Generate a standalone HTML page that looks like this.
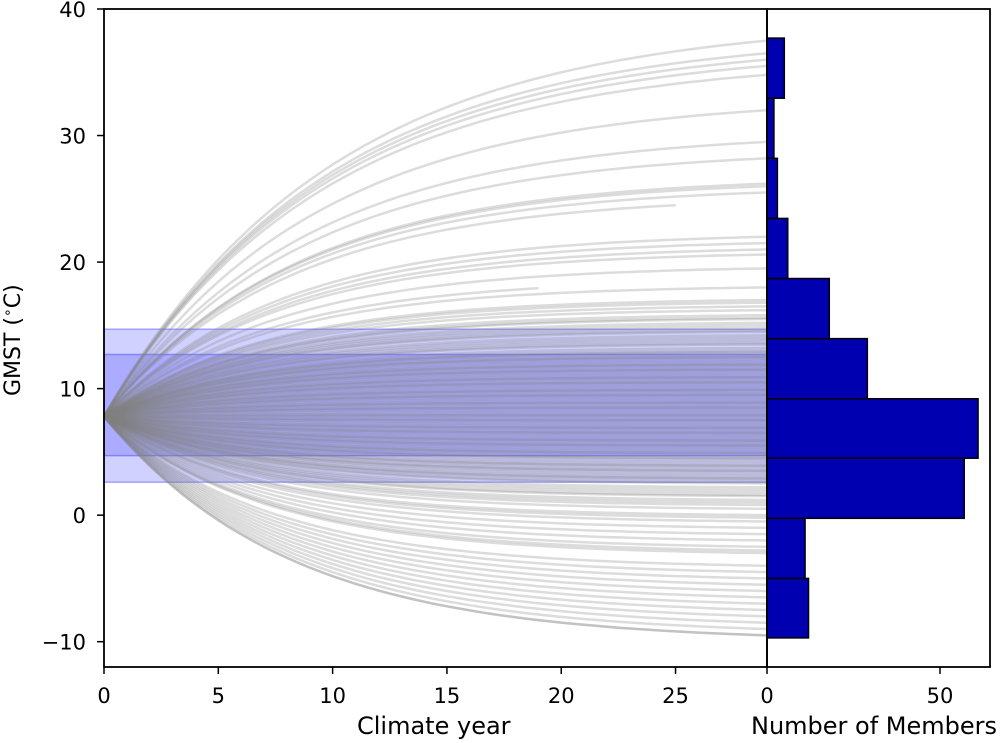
<!DOCTYPE html>
<html><head><meta charset="utf-8"><style>
body{margin:0;background:#fff}
svg{display:block;font-family:"DejaVu Sans","Liberation Sans",sans-serif}
</style></head><body>
<svg id="c" width="1004" height="743"></svg>
<script>
// ---- data ----
const xTicks=[0,5,10,15,20,25];
const yTicks=[-10,0,10,20,30,40];
const histTicks=[0,50];
const startValue=7.8;
const endValues=[37.5,36.5,36,35.5,34.8,32,29.5,28.2,26.2,26,25.5,24.8,22,21.5,21,20.6,19.5,18.5,18,17,16.5,16.2,15.8,15.5,15.2,15,14.8,14.5,14.2,14,13.8,13.5,13.2,13,12.8,12.5,12.2,12,11.8,11.5,11.2,11,10.8,10.5,10.2,10,9.8,9.5,9.2,9,8.8,8.5,8.2,8,7.8,7.5,7.2,7,6.8,6.5,6.2,6,5.8,5.5,5.2,5,4.8,4.5,4.2,4,3.8,3.5,3.2,3,2.8,2.5,2.2,2,1.8,1.5,1.2,1,0.5,0,-0.5,-1,-1.5,-2,-2.5,-3,-4,-4.5,-5,-5.5,-6.5,-7,-7.5,-8,-8.5,-9,-9.5,-9.5,9.6,8.4,7.6,6.6,5.6,4.4,3.4,11.4,12.4,10.6,14.6,13.6,12.6,11.6,10.4,9.4,8.6,7.4,6.4,5.4,4.6,3.6,2.6,1.6,0.8,-0.2,12.9,11.9,10.9,9.9,8.9,7.9,6.9,5.9,4.9,3.9,2.9,16.8,15.6,-2.8,-6];
const endYears=[29,29,29,29,29,29,29,29,29,29,29,25,29,29,29,29,29,19,29];
const histCounts=[12,11,57,61,29,18,6,3,2,5];
const binEdges=[-9.7,-5.0,-0.25,4.5,9.2,13.95,18.7,23.45,28.2,32.95,37.7];
const bandOuter=[2.6,14.7];
const bandInner=[4.7,12.7];
// ---- layout ----
const svg=document.getElementById('c');
const NS='http://www.w3.org/2000/svg';
const L=104,R=767,T=9,B=667,HR=990;
const X=v=>L+v*(R-L)/29;
const Y=v=>T+(40-v)*(B-T)/52;
const HX=v=>R+v*173/50;
function el(tag,attrs,parent){const e=document.createElementNS(NS,tag);for(const k in attrs)e.setAttribute(k,attrs[k]);(parent||svg).appendChild(e);return e;}
[bandOuter,bandInner].forEach((b,i)=>{
  const r=el('rect',{x:L,y:Y(b[1]),width:R-L,height:Y(b[0])-Y(b[1]),fill:'rgba(0,0,255,0.18)',stroke:'rgba(0,0,255,0.3)','stroke-width':1.5});
  
  
});
const lines=el('g',{});


endValues.forEach((ev,i)=>{
  const yEnd=endYears[i]!==undefined?endYears[i]:29;
  const tau=5.5+Math.abs(ev-startValue)*0.15;
  let d='';
  for(let t=0;t<=yEnd;t+=0.5){
    const v=startValue+(ev-startValue)*(1-Math.exp(-t/tau))/(1-Math.exp(-29/tau));
    d+=(t?'L':'M')+X(t).toFixed(1)+','+Y(v).toFixed(1);
  }
  const p=el('path',{d:d,fill:'none',stroke:'rgba(128,128,128,0.28)','stroke-width':2.5},lines);
  
  
});
histCounts.forEach((c,i)=>{
  const r=el('rect',{x:R,y:Y(binEdges[i+1]),width:HX(c)-R,height:Y(binEdges[i])-Y(binEdges[i+1]),fill:'#0000b0',stroke:'#000','stroke-width':1.5});
  
  
});
el('rect',{x:L,y:T,width:R-L,height:B-T,fill:'none',stroke:'#000','stroke-width':1.8});
el('rect',{x:R,y:T,width:HR-R,height:B-T,fill:'none',stroke:'#000','stroke-width':1.8});
xTicks.forEach(v=>{
  el('line',{x1:X(v),x2:X(v),y1:B,y2:B+7,stroke:'#000','stroke-width':1.5});
  const t=el('text',{x:X(v),y:B+36,'font-size':21,'text-anchor':'middle'});t.textContent=v;
  
});
histTicks.forEach(v=>{
  el('line',{x1:HX(v),x2:HX(v),y1:B,y2:B+7,stroke:'#000','stroke-width':1.5});
  const t=el('text',{x:HX(v),y:B+36,'font-size':21,'text-anchor':'middle'});t.textContent=v;
  
});
yTicks.forEach(v=>{
  el('line',{x1:L-7,x2:L,y1:Y(v),y2:Y(v),stroke:'#000','stroke-width':1.5});
  const t=el('text',{x:L-18,y:Y(v)+8,'font-size':21,'text-anchor':'end'});t.textContent=v<0?'\u2212'+(-v):v;
  
});
</script>
<div style="position:absolute;left:0;top:0;width:1004px;height:743px;pointer-events:none;font-family:'DejaVu Sans','Liberation Sans',sans-serif">
<div style="position:absolute;left:357px;top:712px;font-size:24px;line-height:28px">Climate year</div>
<div style="position:absolute;left:751px;top:712px;font-size:24px;line-height:28px;white-space:nowrap">Number of Members</div>
<div style="position:absolute;left:-59px;top:324px;width:140px;text-align:center;font-size:22px;line-height:26px;transform:rotate(-90deg);white-space:nowrap">GMST (<sup style="font-size:14px">∘</sup>C)</div>
</div>
</body></html>
